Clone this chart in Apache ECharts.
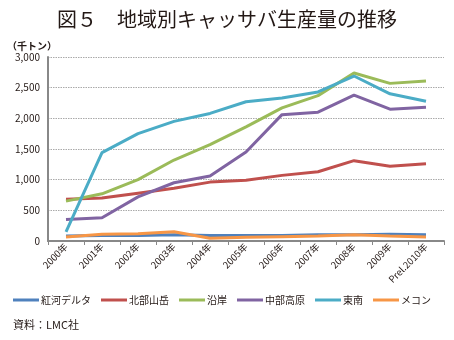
<!DOCTYPE html>
<html><head><meta charset="utf-8">
<script src="https://cdn.jsdelivr.net/npm/echarts@6/dist/echarts.min.js"></script>
<style>html,body{margin:0;padding:0;background:#fff}#c{width:454px;height:340px}</style>
</head><body><div id="c"></div>
<script>
const categories = ['2000年','2001年','2002年','2003年','2004年','2005年','2006年','2007年','2008年','2009年','Prel.2010年'];
const seriesNames = ['紅河デルタ','北部山岳','沿岸','中部高原','東南','メコン'];
const honghaDelta = [80, 90, 90, 100, 90, 90, 90, 100, 100, 110, 100];
const northMountain = [680, 700, 780, 860, 960, 990, 1070, 1130, 1310, 1220, 1260];
const coast = [650, 770, 1000, 1320, 1570, 1860, 2170, 2370, 2740, 2570, 2610];
const centralHighland = [350, 380, 720, 950, 1060, 1450, 2060, 2100, 2380, 2150, 2180];
const southEast = [150, 1440, 1750, 1950, 2080, 2270, 2330, 2430, 2690, 2400, 2280];
const mekong = [65, 110, 120, 150, 45, 60, 70, 80, 100, 80, 65];
const yTicks = [0, 500, 1000, 1500, 2000, 2500, 3000];
const colors = ['#4F81BD','#C0504D','#9BBB59','#8064A2','#4BACC6','#F79646'];
const allData = [honghaDelta, northMountain, coast, centralHighland, southEast, mekong];
const chart = echarts.init(document.getElementById('c'));
const ff = '"Noto Sans CJK JP", sans-serif';
chart.setOption({
  animation: false,
  color: colors,
  textStyle: {fontFamily: ff},
  title: [{
    text: '図５　地域別キャッサバ生産量の推移', left: 'center', top: 4,
    textStyle: {fontSize: 20, fontWeight: 'normal', color: '#231815', fontFamily: ff}
  }, {
    text: '（千トン）', left: 2, top: 36,
    textStyle: {fontSize: 10, fontWeight: 'bold', color: '#231815', fontFamily: ff}
  }, {
    text: '資料：LMC社', left: 8, top: 314,
    textStyle: {fontSize: 11, fontWeight: 'normal', color: '#231815', fontFamily: ff}
  }],
  legend: {
    data: seriesNames, bottom: 35, left: 13, width: 440, itemGap: 10, itemWidth: 26, itemHeight: 3,
    icon: 'rect', padding: 0,
    textStyle: {fontSize: 10, color: '#231815', padding: [0,0,0,-3]}
  },
  grid: {left: 48, top: 57, right: 10, bottom: 99},
  xAxis: {
    type: 'category', data: categories, boundaryGap: true,
    axisLine: {lineStyle: {color: '#888', width: 2}},
    axisTick: {show: true, length: 4, lineStyle: {color: '#888'}},
    axisLabel: {rotate: 45, fontSize: 9.5, color: '#231815', margin: 4, interval: 0}
  },
  yAxis: {
    type: 'value', min: 0, max: 3000, interval: 500,
    axisLine: {show: true, lineStyle: {color: '#888', width: 2}},
    axisTick: {show: false},
    splitLine: {lineStyle: {color: '#aaa', type: [1.5, 1], width: 1}},
    axisLabel: {fontSize: 10, color: '#231815', margin: 8,
      formatter: v => yTicks.includes(v) ? v.toLocaleString('en-US') : ''}
  },
  series: seriesNames.map((n, i) => ({
    name: n, type: 'line', data: allData[i], symbol: 'none',
    lineStyle: {width: 3, color: colors[i]}, itemStyle: {color: colors[i]},
    z: i === 5 ? 3 : 2
  }))
});
</script></body></html>
